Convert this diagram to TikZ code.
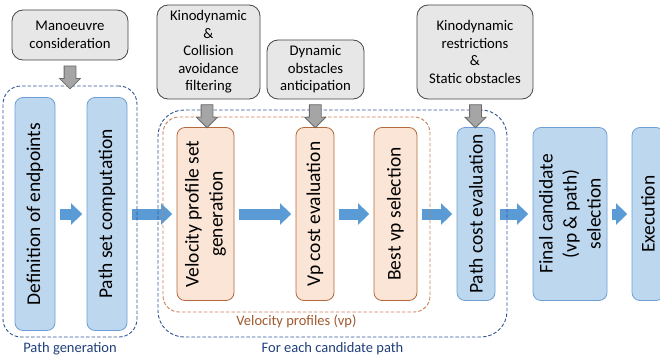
\documentclass[tikz,border=0pt]{standalone}
\usepackage{fontspec}
\setmainfont{Carlito}
\usetikzlibrary{arrows.meta,positioning,calc,shapes.arrows}
\definecolor{boxBlue}{HTML}{BDD7EE}
\definecolor{lineBlue}{HTML}{6F9FD8}
\definecolor{arrBlue}{HTML}{5B9BD5}
\definecolor{boxOrange}{HTML}{FBE5D6}
\definecolor{lineOrange}{HTML}{B46A3C}
\definecolor{boxGray}{HTML}{E7E7E7}
\definecolor{lineGray}{HTML}{454545}
\definecolor{arrGray}{HTML}{A5A5A5}
\definecolor{arrGrayBorder}{HTML}{6A6A6A}
\definecolor{grpBlue}{HTML}{2F5597}
\definecolor{grpOrange}{HTML}{C98058}
\definecolor{txtBlue}{HTML}{203F7A}
\definecolor{txtBrown}{HTML}{A0582C}
\tikzset{
  inp/.style={draw=lineGray, fill=boxGray, rounded corners=11pt, line width=0.8pt,
    align=center, inner sep=2pt, font=\fontsize{14.7}{17.5}\selectfont},
  proc/.style={draw=line#1, fill=box#1, rounded corners=8pt, line width=0.8pt,
    rotate=90, align=center, inner sep=0pt, font=\fontsize{19.5}{24}\selectfont},
  grp/.style={draw=grp#1, dash pattern=on 3.5pt off 2pt, line width=0.9pt,
    rounded corners=18pt},
  grplbl/.style={font=\fontsize{14.5}{17}\selectfont, inner sep=1pt},
  flow/.style={arrBlue, line width=11pt, -{Triangle[length=11pt,width=21pt]},
    shorten <=4.5pt, shorten >=4.5pt},
  downarr/.style={single arrow, draw=arrGrayBorder, fill=arrGray, line width=0.8pt,
    rotate=-90, minimum height=23pt, inner sep=5.5pt, single arrow head extend=4.5pt}
}
\begin{document}
\begin{tikzpicture}[x=1pt,y=-1pt]
  \useasboundingbox (0,0) rectangle (660,361);
  \clip (0,0) rectangle (660,361);
  % inputs
  \node[inp, minimum width=116pt, minimum height=50pt] (man) at (70,35) {Manoeuvre\\consideration};
  \node[inp, minimum width=103pt, minimum height=94pt] (kin) at (208.5,52) {Kinodynamic\\\&\\Collision\\avoidance\\filtering};
  \node[inp, minimum width=97pt, minimum height=59pt] (dyn) at (315.5,69.5) {Dynamic\\obstacles\\anticipation};
  \node[inp, minimum width=116pt, minimum height=94pt] (stat) at (475,52) {Kinodynamic\\restrictions\\\&\\Static obstacles};
  % processing steps
  \node[proc=Blue, minimum width=233pt, minimum height=40pt] (def) at (35,214) {Definition of endpoints};
  \node[proc=Blue, minimum width=233pt, minimum height=40pt] (pset) at (107,214) {Path set computation};
  \node[proc=Orange, minimum width=173pt, minimum height=57pt] (vpg) at (205.5,214) {Velocity profile set\\generation};
  \node[proc=Orange, minimum width=173pt, minimum height=38pt] (vpc) at (315,214) {Vp cost evaluation};
  \node[proc=Orange, minimum width=173pt, minimum height=43pt] (best) at (395.5,214) {Best vp selection};
  \node[proc=Blue, minimum width=173pt, minimum height=38pt] (pcost) at (476,214) {Path cost evaluation};
  \node[proc=Blue, minimum width=173pt, minimum height=74pt] (final) at (570,214) {Final candidate\\(vp \& path)\\selection};
  \node[proc=Blue, minimum width=173pt, minimum height=32pt] (exec) at (648,214) {Execution};
  \foreach \a/\b in {def/pset, pset/vpg, vpg/vpc, vpc/best, best/pcost, pcost/final, final/exec}
    \draw[flow] (\a) -- (\b);
  % groups
  \node[grp=Blue, minimum width=134pt, minimum height=251pt] (pgengrp) at (70,211.5) {};
  \node[grp=Blue, rounded corners=26pt, minimum width=349pt, minimum height=227pt] (candgrp) at (332.5,223.5) {};
  \node[grp=Orange, rounded corners=16pt, minimum width=267pt, minimum height=195pt] (vpgrp) at (296.5,214.5) {};
  \node[grplbl, text=txtBlue, below=4pt of pgengrp] {Path generation};
  \node[grplbl, text=txtBlue, below=4pt of candgrp] {For each candidate path};
  \node[grplbl, text=txtBrown, below=1pt of vpgrp] {Velocity profiles (vp)};
  % inputs into steps
  \node[downarr] (a1) at ($(man.south)!0.5!(pgengrp.north)+(0,1.5)$) {};
  \node[downarr] (a2) at ($(kin.south)!0.5!(vpg.east)$) {};
  \node[downarr] (a3) at ($(dyn.south)!0.5!(vpc.east)$) {};
  \node[downarr] (a4) at ($(stat.south)!0.5!(pcost.east)$) {};
\end{tikzpicture}
\end{document}
